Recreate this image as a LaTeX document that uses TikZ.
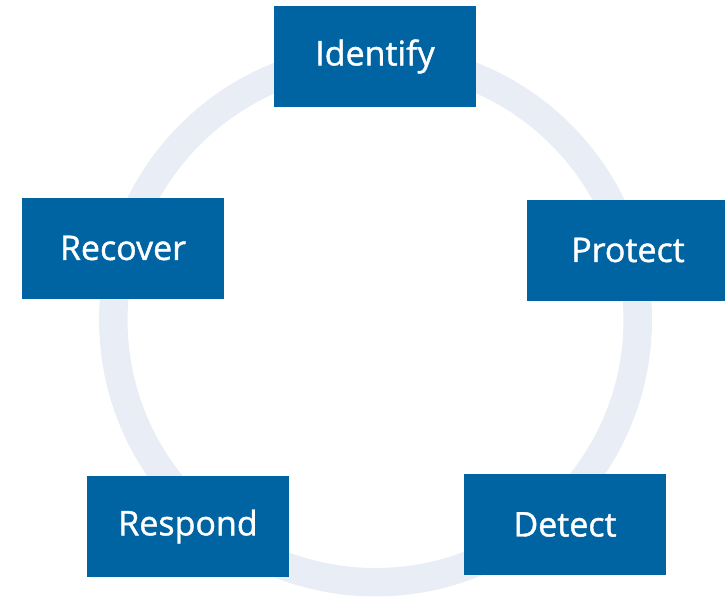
\documentclass[tikz,border=0pt]{standalone}
\usepackage{fontspec}
\setmainfont{Open Sans}
\newfontfamily\labelfont[FakeBold=1.2]{Open Sans}
\definecolor{boxblue}{HTML}{0063A2}
\definecolor{ringgray}{HTML}{E9EDF5}
\begin{document}
\begin{tikzpicture}[x=1pt,y=-1pt,
  stagebox/.style={fill=boxblue,draw=none,minimum width=202pt,minimum height=101pt,inner sep=0pt,text=white,font=\labelfont\fontsize{34}{40}\selectfont}]
\useasboundingbox (0,0) rectangle (725,597);
\draw[ringgray,line width=28.5pt] (375.5,320) circle[radius=262.2];
\node[stagebox] (identify) at (375,56.5) {Identify};
\node[stagebox] (protect) at (628,250) {Protect};
\node[stagebox] (detect) at (565,524.5) {Detect};
\node[stagebox] (respond) at (188,526.5) {Respond};
\node[stagebox] (recover) at (123,248) {Recover};
\end{tikzpicture}
\end{document}
